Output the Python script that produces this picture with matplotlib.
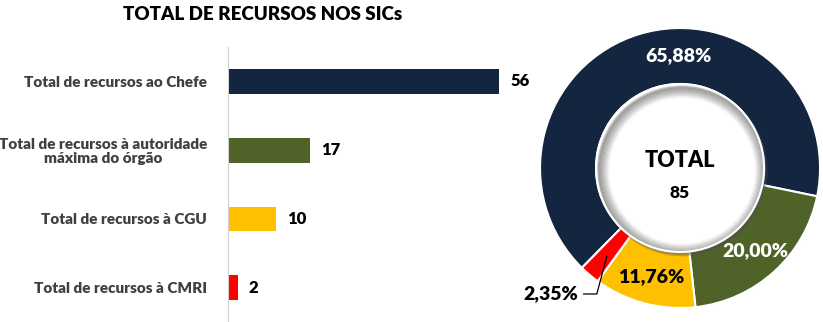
import numpy as np
import matplotlib.pyplot as plt
from matplotlib.patches import Circle

plt.rcParams['font.family'] = ['Lato', 'DejaVu Sans']
peso = 'heavy'

categorias = ['Total de recursos ao Chefe',
              'Total de recursos à autoridade\nmáxima do órgão',
              'Total de recursos à CGU',
              'Total de recursos à CMRI']
valores = [56, 17, 10, 2]
cores = ['#14263F', '#4F6228', '#FFC000', '#FF0000']
cor_pct = ['white', 'white', 'black', 'black']

total = sum(valores)

fig = plt.figure(figsize=(8.23, 3.22), dpi=100)

# --- barras ---
ax = fig.add_axes([228 / 823, 0, 292 / 823, 275 / 322])
y = np.arange(len(valores))
ax.barh(y, valores, height=0.36, color=cores)
ax.set_xlim(0, 60.3)
ax.set_ylim(3.5, -0.5)
for s in ['top', 'right', 'bottom']:
    ax.spines[s].set_visible(False)
ax.spines['left'].set_color('#D0D0D0')
ax.set_xticks([])
ax.set_yticks(y)
ax.set_yticklabels(categorias, fontsize=11, fontweight=peso, color='#404040',
                   ha='right', multialignment='center', linespacing=1.1)
ax.tick_params(axis='y', length=0, pad=15)
for yi, v in zip(y, valores):
    ax.text(v + 2.3, yi, str(v), va='center', ha='left', fontsize=12,
            fontweight=peso, color='black')

fig.text(263 / 823, 1 - 14 / 322, 'TOTAL DE RECURSOS NOS SICs', ha='center', va='center',
         fontsize=13.5, fontweight=peso, color='black')

# --- rosca ---
ax2 = fig.add_axes([520 / 823, 0, 303 / 823, 1])
wedges, _ = ax2.pie(valores, colors=cores, startangle=225.5, counterclock=False,
                    radius=1, wedgeprops=dict(width=0.4, edgecolor='white', linewidth=1.5))

# sombra interna
for i in range(10):
    ax2.add_patch(Circle((0.015, -0.02), 0.6 - i * 0.008, facecolor='none',
                         edgecolor='#505050', linewidth=2.2, alpha=0.28 * (1 - i / 10)))
ax2.add_patch(Circle((0, 0), 0.6, facecolor='none', edgecolor='white', linewidth=1.5))

for w, v, c in zip(wedges, valores, cor_pct):
    pct = f'{v / total * 100:.2f}%'.replace('.', ',')
    ang = (w.theta1 + w.theta2) / 2
    if v == max(valores):
        ang = 91
    a = np.radians(ang)
    if v == min(valores):
        ax2.annotate(pct, xy=(0.8 * np.cos(a), 0.8 * np.sin(a)),
                     xytext=(-0.73, -0.9), ha='right', va='center',
                     fontsize=14, fontweight=peso, color=c,
                     arrowprops=dict(arrowstyle='-', color='black', lw=0.9,
                                     connectionstyle='angle,angleA=0,angleB=75,rad=0'))
        continue
    ax2.text(0.8 * np.cos(a), 0.8 * np.sin(a), pct, ha='center', va='center',
             fontsize=14, fontweight=peso, color=c)

ax2.text(0, 0.05, 'TOTAL', ha='center', va='center', fontsize=15.5, fontweight=peso)
ax2.text(0, -0.18, str(total), ha='center', va='center', fontsize=12.5, fontweight=peso)

ax2.set_xlim(-1.143, 1.021)
ax2.set_ylim(-1.1, 1.2)
ax2.set_aspect('auto')
ax2.axis('off')

fig.savefig('out.png', dpi=100)
